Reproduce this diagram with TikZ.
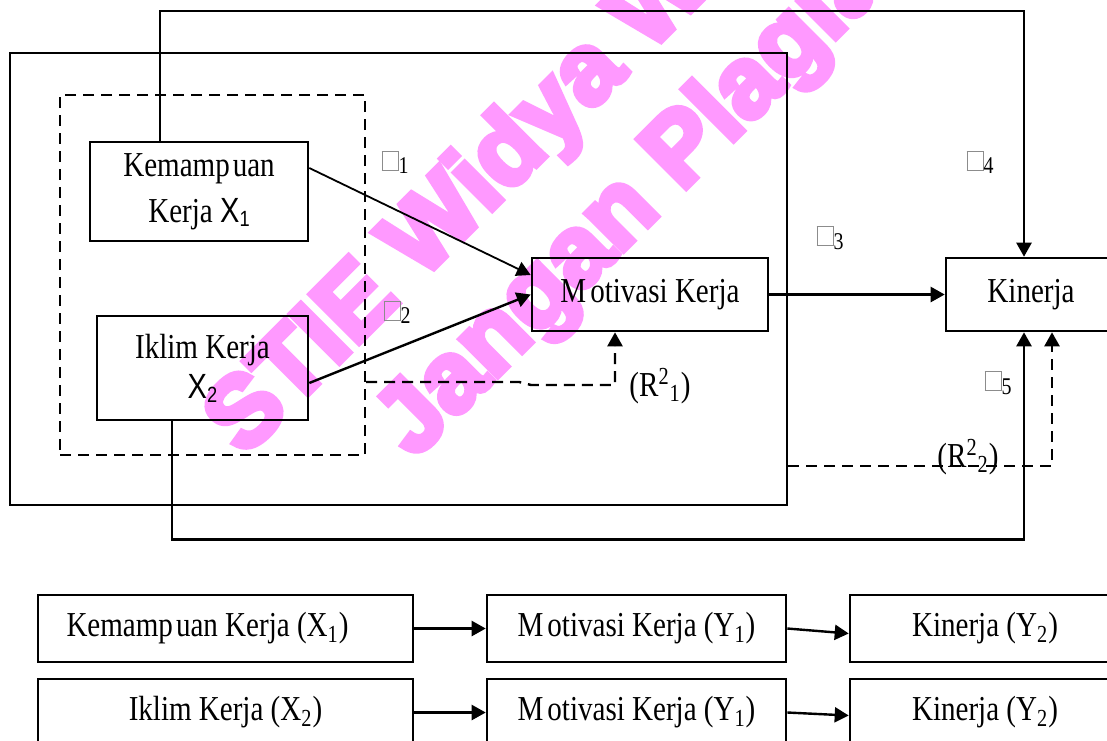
\documentclass[tikz,border=0pt]{standalone}
\usepackage{fontspec}
\setmainfont{Liberation Serif}[FakeStretch=0.83]
\newfontfamily\sansx{Liberation Sans}[FakeStretch=0.83]
\newfontfamily\wmfont{Liberation Sans}[BoldFeatures={FakeBold=6}]
\usepackage{xcolor}
\usetikzlibrary{arrows.meta, positioning}

\definecolor{tanda}{RGB}{255,153,255}
\newcommand{\kotak}[1]{\textcolor{black!45}{\fboxsep=0pt\fboxrule=0.5pt\fbox{\rule{0pt}{9pt}\rule{7.5pt}{0pt}}}\raisebox{-2pt}{\fontsize{12}{12}\selectfont #1}}
\newcommand{\varX}[1]{{\sansx X\raisebox{-2pt}{\fontsize{11}{11}\selectfont #1}}}

\begin{document}
\begin{tikzpicture}[
    x=0.5pt, y=-0.5pt,
    >={Triangle[length=7pt, width=7.5pt]},
    varbox/.style={rectangle, draw=black, line width=1.3pt, align=center, inner sep=0pt, font=\fontsize{17.5}{23}\selectfont},
    rowbox/.style={rectangle, draw=black, line width=1.3pt, align=center, inner sep=0pt, minimum height=33.5pt, font=\fontsize{17.5}{20}\selectfont},
    frame/.style={rectangle, draw=black, line width=1.3pt, inner sep=0pt},
    dashframe/.style={rectangle, draw=black, line width=1.2pt, dash pattern=on 5.5pt off 3.5pt, inner sep=0pt},
    lbl/.style={inner sep=0pt, font=\fontsize{17.5}{20}\selectfont},
    arrow/.style={->, line width=1.2pt, draw=black},
    dasharrow/.style={->, line width=1.2pt, draw=black, dash pattern=on 5.5pt off 3.5pt},
    watermarktext/.style={rectangle, inner sep=0pt, text=tanda, font=\wmfont\bfseries\fontsize{50}{50}\selectfont, rotate=45, anchor=base west}
]
\useasboundingbox (0,0) rectangle (1107,740);

% =============================================================
% Watermark (behind everything)
% =============================================================
\node[watermarktext] (wm1) at (244,458) {STIE Widya Wiwaha};
\node[watermarktext] (wm2) at (414,460) {Jangan Plagiat};

% =============================================================
% Frames
% =============================================================
\node[frame, minimum width=388.5pt, minimum height=226pt] (luar) at (398.5,279) {};
\node[dashframe, minimum width=152.5pt, minimum height=180pt] (kelompok) at (212.5,275) {};

% =============================================================
% Model boxes
% =============================================================
\node[varbox, minimum width=109pt, minimum height=49.5pt] (kemampuan) at (199,191.5) {Kemamp\kern1.5pt uan\\Kerja \varX{1}};
\node[varbox, minimum width=105.5pt, minimum height=52pt] (iklim) at (202.5,368) {Iklim Kerja\\[-3pt]\varX{2}};
\node[varbox, minimum width=118pt, minimum height=36.5pt] (motivasi) at (650,294.5) {\raisebox{2pt}{M\kern2pt otivasi Kerja}};
\node[varbox, minimum width=85pt, minimum height=36.5pt] (kinerja) at (1031,294.5) {\raisebox{2pt}{Kinerja}};

% Paths
\draw[->, line width=0.9pt] ([yshift=11.75pt]kemampuan.east) -- ([yshift=9.75pt]motivasi.west);
\draw[arrow] ([yshift=-7.5pt]iklim.east) -- (motivasi.west);
\draw[arrow] (motivasi.east) -- (kinerja.west);
\draw[arrow] ([xshift=-19.5pt]kemampuan.north) -- ++(0,-130) -| ([xshift=-3.5pt]kinerja.north);
\draw[arrow] ([xshift=-15.25pt]iklim.south) -- ++(0,118) -| ([xshift=-3.5pt]kinerja.south);

% R square paths
\draw[dasharrow] ([yshift=-53.5pt]kelompok.east) -- ++(153,0) -- ++(12,3) -| ([xshift=-17.5pt]motivasi.south);
\draw[dasharrow] ([yshift=-93.5pt]luar.east) -| ([xshift=10.5pt]kinerja.south);

% Coefficient labels
\node[lbl] (p1) at (395,162) {\kotak{1}};
\node[lbl] (p2) at (397,312) {\kotak{2}};
\node[lbl] (p3) at (830,238) {\kotak{3}};
\node[lbl] (p4) at (980,162) {\kotak{4}};
\node[lbl] (p5) at (998,383) {\kotak{5}};
\node[lbl] (r1) at (660,386) {(R\textsuperscript{2}\textsubscript{1})};
\node[lbl] (r2) at (968,457) {(R\textsuperscript{2}\textsubscript{2})};

% =============================================================
% Summary rows
% =============================================================
\node[rowbox, minimum width=187.5pt] (a1) at (225.5,628.5) {Kemamp\kern1.5pt uan Kerja (X\textsubscript{1})\hspace*{18pt}};
\node[rowbox, minimum width=149.5pt] (b1) at (636.5,628.5) {M\kern2pt otivasi Kerja (Y\textsubscript{1})};
\node[rowbox, minimum width=135pt] (c1) at (985,628.5) {Kinerja (Y\textsubscript{2})};

\node[rowbox, minimum width=187.5pt] (a2) at (225.5,712.5) {Iklim Kerja (X\textsubscript{2})};
\node[rowbox, minimum width=149.5pt] (b2) at (636.5,712.5) {M\kern2pt otivasi Kerja (Y\textsubscript{1})};
\node[rowbox, minimum width=135pt] (c2) at (985,712.5) {Kinerja (Y\textsubscript{2})};

\draw[arrow] (a1.east) -- (b1.west);
\draw[arrow] (b1.east) -- ([yshift=-2.5pt]c1.west);
\draw[arrow] (a2.east) -- (b2.west);
\draw[arrow] (b2.east) -- ([yshift=-1.5pt]c2.west);

\end{tikzpicture}
\end{document}
